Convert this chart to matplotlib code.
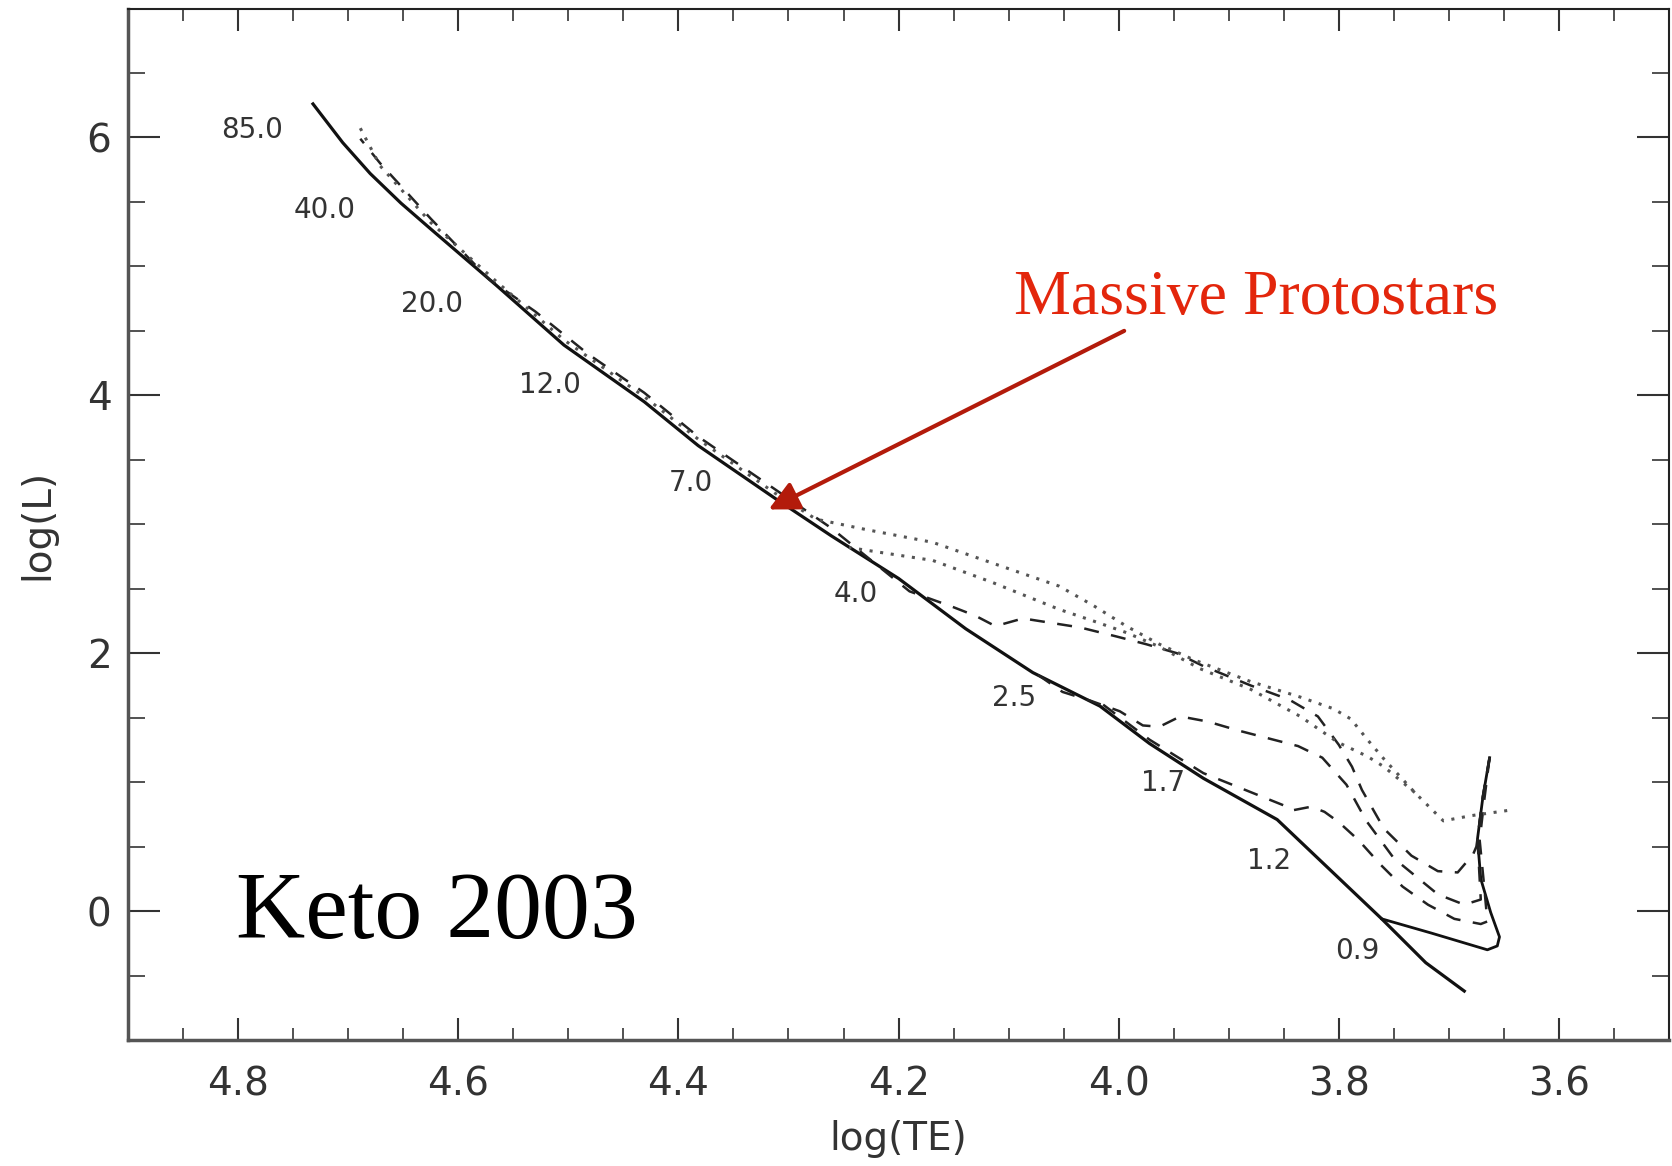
import matplotlib
matplotlib.use("Agg")
import matplotlib.pyplot as plt
from matplotlib.ticker import MultipleLocator


# =========================
# DATOS
# =========================

# ZAMS, linea continua
zams_logt = [4.732, 4.705, 4.680, 4.652, 4.625, 4.565, 4.504, 4.431, 4.382, 4.312,
             4.261, 4.200, 4.139, 4.078, 4.017, 3.972, 3.923, 3.856, 3.761, 3.721, 3.686]
zams_logl = [6.26, 5.96, 5.72, 5.49, 5.29, 4.85, 4.39, 3.95, 3.61, 3.20,
             2.91, 2.58, 2.19, 1.85, 1.59, 1.30, 1.03, 0.71, -0.06, -0.40, -0.62]

# traza de 0.9 Msun, continua
t09_logt = [3.663, 3.669, 3.674, 3.671, 3.662, 3.654, 3.656, 3.665, 3.716, 3.761]
t09_logl = [1.19, 0.89, 0.56, 0.25, -0.01, -0.20, -0.27, -0.30, -0.17, -0.06]

# trazas a trazos
dash_a_logt = [3.663, 3.668, 3.672, 3.668, 3.665, 3.671, 3.695, 3.719, 3.742, 3.762,
               3.782, 3.800, 3.813, 3.825, 3.843, 3.850, 3.923, 3.972, 4.017]
dash_a_logl = [1.19, 0.85, 0.55, 0.20, -0.08, -0.10, -0.06, 0.05, 0.19, 0.36,
               0.55, 0.69, 0.77, 0.81, 0.78, 0.82, 1.07, 1.33, 1.62]

dash_b_logt = [3.663, 3.669, 3.674, 3.671, 3.686, 3.710, 3.750, 3.775, 3.793, 3.815,
               3.837, 3.864, 3.891, 3.919, 3.944, 3.963, 3.978, 3.999, 4.025, 4.051, 4.078]
dash_b_logl = [1.19, 0.89, 0.56, 0.09, 0.05, 0.13, 0.41, 0.70, 0.98, 1.19,
               1.28, 1.34, 1.40, 1.47, 1.51, 1.43, 1.44, 1.55, 1.63, 1.70, 1.86]

dash_c_logt = [3.663, 3.669, 3.674, 3.675, 3.678, 3.692, 3.710, 3.734, 3.759, 3.779,
               3.788, 3.800, 3.819, 3.845, 3.880, 3.923, 3.947, 3.975, 4.002, 4.035,
               4.087, 4.112, 4.130, 4.151, 4.190, 4.261, 4.312, 4.382, 4.431, 4.482,
               4.530, 4.572, 4.625, 4.671, 4.689]
dash_c_logl = [1.19, 0.89, 0.56, 0.50, 0.44, 0.30, 0.31, 0.43, 0.64, 0.94,
               1.12, 1.29, 1.51, 1.64, 1.75, 1.90, 2.00, 2.07, 2.13, 2.20,
               2.27, 2.21, 2.29, 2.36, 2.48, 2.97, 3.27, 3.68, 4.02, 4.32,
               4.65, 4.90, 5.37, 5.80, 5.99]

# trazas punteadas
dot_u_logt = [3.647, 3.680, 3.705, 3.731, 3.759, 3.774, 3.789, 3.805, 3.835, 3.880,
              3.932, 3.963, 3.993, 4.023, 4.054, 4.115, 4.169, 4.230, 4.275, 4.312,
              4.382, 4.431, 4.504, 4.565, 4.625, 4.671, 4.692]
dot_u_logl = [0.78, 0.74, 0.70, 0.92, 1.18, 1.33, 1.49, 1.57, 1.66, 1.78,
              1.95, 2.07, 2.21, 2.37, 2.52, 2.70, 2.86, 2.96, 3.04, 3.24,
              3.66, 3.99, 4.43, 4.88, 5.34, 5.78, 6.12]

dot_l_logt = [3.731, 3.759, 3.774, 3.801, 3.835, 3.880, 3.926, 3.963, 3.993, 4.023,
              4.054, 4.115, 4.169, 4.215, 4.245]
dot_l_logl = [0.92, 1.12, 1.20, 1.31, 1.51, 1.72, 1.88, 2.05, 2.16, 2.25,
              2.34, 2.55, 2.72, 2.78, 2.82]

# etiquetas de masa sobre la ZAMS
mass_labels = ["85.0", "40.0", "20.0", "12.0", "7.0", "4.0", "2.5", "1.7", "1.2", "0.9"]
label_logt = [4.787, 4.721, 4.624, 4.517, 4.389, 4.239, 4.095, 3.960, 3.863, 3.783]
label_logl = [6.06, 5.44, 4.71, 4.08, 3.32, 2.46, 1.65, 0.99, 0.39, -0.31]

# flecha "Massive Protostars"
arrow_tail = (3.995, 4.50)
arrow_tip = (4.318, 3.115)


def main() -> None:
    fig = plt.figure(figsize=(16.72, 11.66), dpi=100)
    ax = fig.add_axes([0.0766, 0.108, 0.9216, 0.8847])

    ax.plot(zams_logt, zams_logl, color="#111111", lw=2.3)
    ax.plot(t09_logt, t09_logl, color="#111111", lw=2.0)

    for xs, ys in [(dash_a_logt, dash_a_logl), (dash_b_logt, dash_b_logl),
                   (dash_c_logt, dash_c_logl)]:
        ax.plot(xs, ys, color="#222222", lw=1.8, dashes=(6, 5))

    for xs, ys in [(dot_u_logt, dot_u_logl), (dot_l_logt, dot_l_logl)]:
        ax.plot(xs, ys, color="#555555", lw=2.2, dashes=(1, 2.5))

    for txt, x, y in zip(mass_labels, label_logt, label_logl):
        ax.text(x, y, txt, fontsize=20, color="#333333", ha="center", va="center")

    ax.text(4.802, -0.207, "Keto 2003", fontsize=69, family="Liberation Serif",
            color="black", ha="left", va="baseline")
    ax.text(4.095, 4.628, "Massive Protostars", fontsize=46, family="Liberation Serif",
            color="#e3260c", ha="left", va="baseline")
    ax.annotate("", xy=arrow_tip, xytext=arrow_tail,
                arrowprops=dict(arrowstyle="-|>", lw=3, color="#b31b0b",
                                mutation_scale=45, shrinkA=0, shrinkB=0))

    ax.set_xlim(4.9, 3.5)
    ax.set_ylim(-1, 7)
    ax.xaxis.set_major_locator(MultipleLocator(0.2))
    ax.xaxis.set_minor_locator(MultipleLocator(0.05))
    ax.yaxis.set_major_locator(MultipleLocator(2))
    ax.yaxis.set_minor_locator(MultipleLocator(0.5))
    ax.set_xticks([4.8, 4.6, 4.4, 4.2, 4.0, 3.8, 3.6])
    ax.set_xticklabels(["4.8", "4.6", "4.4", "4.2", "4.0", "3.8", "3.6"])

    ax.tick_params(axis="both", which="both", direction="in", top=True, right=True,
                   colors="#333333", labelsize=28)
    ax.tick_params(axis="x", which="major", length=16, width=1.5, pad=18)
    ax.tick_params(axis="x", which="minor", length=8.5, width=1.2)
    ax.tick_params(axis="y", which="major", length=23, width=1.5, pad=12)
    ax.tick_params(axis="y", which="minor", length=12, width=1.2)

    ax.set_xlabel("log(TE)", fontsize=28, color="#333333", labelpad=12)
    ax.set_ylabel("log(L)", fontsize=28, color="#333333", labelpad=22)

    for side in ["left", "bottom"]:
        ax.spines[side].set_linewidth(2.5)
        ax.spines[side].set_color("#555555")
    for side in ["top", "right"]:
        ax.spines[side].set_linewidth(1.5)
        ax.spines[side].set_color("#222222")

    fig.savefig("out.png", dpi=100)


if __name__ == "__main__":
    main()
